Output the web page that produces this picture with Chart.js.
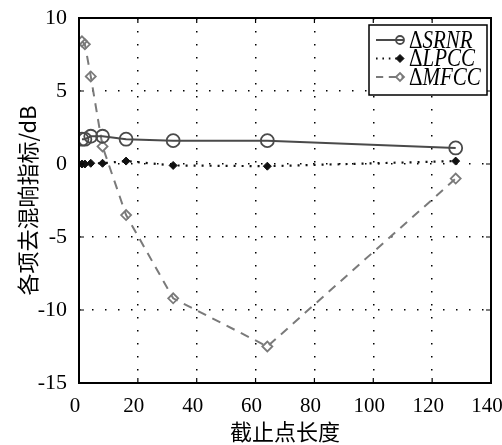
<!DOCTYPE html>
<html>
<head>
<meta charset="utf-8">
<script src="https://cdn.jsdelivr.net/npm/chart.js@4"></script>
<style>
  html, body { margin: 0; padding: 0; background: #fff; }
  #wrap { width: 502px; height: 445px; }
</style>
</head>
<body>
<div id="wrap"><canvas id="myChart" width="502" height="445"></canvas></div>
<script>
// cut-off lengths and the three measures
const cutoff = [1, 2, 4, 8, 16, 32, 64, 128];
const srnr = [1.7, 1.7, 1.9, 1.9, 1.7, 1.6, 1.6, 1.1];
const lpcc = [0.0, 0.0, 0.05, 0.05, 0.2, -0.1, -0.15, 0.2];
const mfcc = [8.4, 8.2, 6.0, 1.2, -3.5, -9.2, -12.5, -1.0];
const seriesNames = ['SRNR', 'LPCC', 'MFCC'];
const xTicks = [0, 20, 40, 60, 80, 100, 120, 140];
const yTicks = [-15, -10, -5, 0, 5, 10];

const serif = "'Liberation Serif', 'Times New Roman', serif";
const toPoints = (ys) => cutoff.map((x, i) => ({ x: x, y: ys[i] }));

// box, inward ticks and legend, MATLAB style
const boxPlugin = {
    id: 'box',
    afterDraw(chart) {
        const ctx = chart.ctx;
        const a = chart.chartArea;
        const xs = chart.scales.x, ys = chart.scales.y;
        ctx.save();
        ctx.strokeStyle = '#000';
        ctx.lineWidth = 2;
        ctx.strokeRect(a.left, a.top, a.right - a.left, a.bottom - a.top);
        ctx.lineWidth = 1.2;
        ctx.beginPath();
        xTicks.forEach(v => {
            const px = xs.getPixelForValue(v);
            ctx.moveTo(px, a.bottom); ctx.lineTo(px, a.bottom - 5);
            ctx.moveTo(px, a.top); ctx.lineTo(px, a.top + 5);
        });
        yTicks.forEach(v => {
            const py = ys.getPixelForValue(v);
            ctx.moveTo(a.left, py); ctx.lineTo(a.left + 5, py);
            ctx.moveTo(a.right, py); ctx.lineTo(a.right - 5, py);
        });
        ctx.stroke();

        // legend
        const lx = 369, ly = 25, lw = 118, lh = 70;
        ctx.fillStyle = '#fff';
        ctx.fillRect(lx, ly, lw, lh);
        ctx.lineWidth = 1.5;
        ctx.strokeRect(lx, ly, lw, lh);
        chart.data.datasets.forEach((ds, i) => {
            const yy = ly + 15 + i * 18.5;
            ctx.save();
            ctx.strokeStyle = ds.borderColor;
            ctx.lineWidth = ds.borderWidth;
            ctx.setLineDash(ds.borderDash ? [ds.borderDash[0] * 0.8, ds.borderDash[1] * 0.8] : []);
            ctx.beginPath();
            ctx.moveTo(376, yy); ctx.lineTo(404, yy);
            ctx.stroke();
            ctx.restore();
            ctx.save();
            ctx.strokeStyle = ds.pointBorderColor;
            ctx.fillStyle = ds.pointBackgroundColor;
            ctx.lineWidth = ds.pointBorderWidth;
            Chart.helpers.drawPoint(ctx, {
                pointStyle: ds.pointStyle,
                radius: 4,
                borderWidth: ds.pointBorderWidth
            }, 400, yy);
            ctx.restore();
            ctx.save();
            ctx.fillStyle = '#000';
            ctx.textBaseline = 'middle';
            ctx.translate(409, yy + 1);
            ctx.scale(1, 1.2);
            ctx.font = '21px ' + serif;
            ctx.fillText('\u0394', 0, 0);
            const dw = ctx.measureText('\u0394').width;
            ctx.font = 'italic 21px ' + serif;
            ctx.fillText(seriesNames[i], dw, 0);
            ctx.restore();
        });
        ctx.restore();
    }
};

const ctx = document.getElementById('myChart').getContext('2d');
const chart = new Chart(ctx, {
    type: 'line',
    data: {
        datasets: [{
            label: '\u0394SRNR',
            data: toPoints(srnr),
            borderColor: '#4a4a4a',
            backgroundColor: 'rgba(0,0,0,0)',
            borderWidth: 2,
            pointStyle: 'circle',
            pointRadius: 6.5,
            pointBorderWidth: 1.8,
            pointBorderColor: '#4a4a4a',
            pointBackgroundColor: 'rgba(0,0,0,0)'
        }, {
            label: '\u0394LPCC',
            data: toPoints(lpcc),
            borderColor: '#111',
            backgroundColor: '#111',
            borderWidth: 2.2,
            borderDash: [2, 6],
            pointStyle: 'rectRot',
            pointRadius: 4,
            pointBorderWidth: 1,
            pointBorderColor: '#111',
            pointBackgroundColor: '#111'
        }, {
            label: '\u0394MFCC',
            data: toPoints(mfcc),
            borderColor: '#7a7a7a',
            backgroundColor: 'rgba(0,0,0,0)',
            borderWidth: 2,
            borderDash: [9, 7],
            pointStyle: 'rectRot',
            pointRadius: 5,
            pointBorderWidth: 1.8,
            pointBorderColor: '#7a7a7a',
            pointBackgroundColor: 'rgba(0,0,0,0)'
        }]
    },
    options: {
        responsive: false,
        animation: false,
        layout: { padding: { top: 18, right: 11, left: 14, bottom: 0 } },
        plugins: {
            legend: { display: false },
            tooltip: { enabled: false }
        },
        scales: {
            x: {
                type: 'linear',
                min: 0, max: 140,
                afterBuildTicks: (s) => { s.ticks = xTicks.map(v => ({ value: v })); },
                afterFit: (s) => { s.height = 62; s.paddingLeft = 0; s.paddingRight = 0; },
                ticks: { color: '#000', font: { family: serif, size: 21 }, padding: 11,
                    maxRotation: 0, labelOffset: -4 },
                grid: { color: '#000', lineWidth: 1.5, drawTicks: false },
                border: { display: false, dash: [1.5, 11.5] },
                title: { display: true, text: '截止点长度', color: '#000',
                    font: { family: 'Noto Sans CJK SC', size: 22 }, padding: { top: 0, bottom: 0 } }
            },
            y: {
                type: 'linear',
                min: -15, max: 10,
                afterBuildTicks: (s) => { s.ticks = yTicks.map(v => ({ value: v })); },
                afterFit: (s) => { s.width = 65; s.paddingTop = 0; s.paddingBottom = 0; },
                ticks: { color: '#000', font: { family: serif, size: 22 }, padding: 12 },
                grid: { color: '#000', lineWidth: 1.5, drawTicks: false },
                border: { display: false, dash: [1.5, 11.5] },
                title: { display: true, text: '各项去混响指标/dB', color: '#000',
                    font: { family: 'Noto Sans CJK SC', size: 22 }, padding: { top: 0, bottom: 0 } }
            }
        }
    },
    plugins: [boxPlugin]
});
</script>
</body>
</html>
